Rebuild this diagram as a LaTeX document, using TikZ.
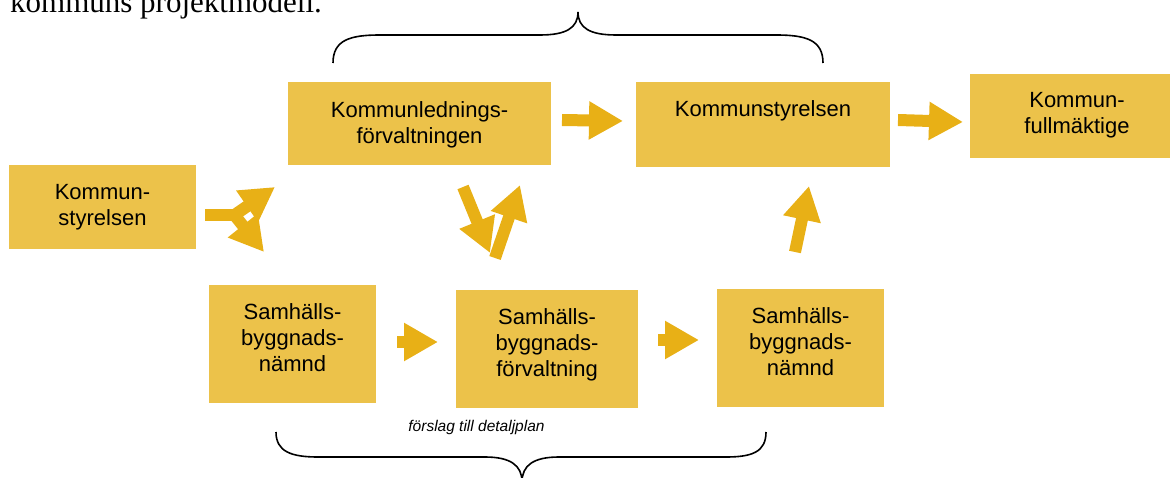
\documentclass[tikz,border=0pt]{standalone}
\usepackage{fontspec}
\setmainfont{Liberation Sans}
\newfontfamily\titleserif{Liberation Serif}
\usetikzlibrary{arrows.meta,calc}
\definecolor{boxc}{RGB}{236,194,74}
\definecolor{arrc}{RGB}{232,176,22}
\begin{document}
\begin{tikzpicture}[x=1pt,y=1pt,
  box/.style={fill=boxc,draw=none,inner sep=0pt,outer sep=0pt},
  txt/.style={align=center,font=\fontsize{22}{26}\selectfont,inner sep=0pt,text=black},
  blockarrow/.style={draw=arrc,line width=12pt,-{Triangle[length=34pt,width=36pt]}},
  brace/.style={draw=black,line width=1.6pt}]
\useasboundingbox (0,0) rectangle (1170,-478);
\clip (0,0) rectangle (1170,-478);

% title fragment (cut off at top)
\node[anchor=base west,inner sep=0pt,font=\titleserif\fontsize{31}{31}\selectfont] (title) at (10,-12.7) {kommuns projektmodell.};

% boxes
\node[box,minimum width=187pt,minimum height=84pt] (A) at (102.5,-207) {};
\node[box,minimum width=263pt,minimum height=83pt] (B) at (419.5,-123.5) {};
\node[box,minimum width=254pt,minimum height=85pt] (C) at (763,-124.5) {};
\node[box,minimum width=214pt,minimum height=84pt] (D) at (1077,-116) {};
\node[box,minimum width=167pt,minimum height=118pt] (E) at (292.5,-344) {};
\node[box,minimum width=182pt,minimum height=118pt] (F) at (547,-349) {};
\node[box,minimum width=167pt,minimum height=118pt] (G) at (800.5,-348) {};

% box texts
\node[txt] (At) at (102.5,-207.4) {Kommun-\\styrelsen};
\node[txt] (Bt) at (419.5,-124.4) {Kommunlednings-\\förvaltningen};
\node[txt,anchor=base] (Ct) at (763,-117) {Kommunstyrelsen};
\node[txt] (Dt) at (1077,-115.4) {Kommun-\\fullmäktige};
\node[txt] (Et) at (292.5,-338) {Samhälls-\\byggnads-\\nämnd};
\node[txt] (Ft) at (547,-345.3) {Samhälls-\\byggnads-\\förvaltning};
\node[txt] (Gt) at (800.5,-342) {Samhälls-\\byggnads-\\nämnd};

% arrow end points
\coordinate (bc1) at (562,-120);  \coordinate (bc2) at (623,-121);
\coordinate (cd1) at (898,-120);  \coordinate (cd2) at (963,-122);
\coordinate (ef1) at (397,-342);  \coordinate (ef2) at (438,-342);
\coordinate (fg1) at (658,-340);  \coordinate (fg2) at (699,-340);
\coordinate (gc1) at (795,-252);  \coordinate (gc2) at (809,-186);
\coordinate (bf1) at (463,-187);  \coordinate (bf2) at (490,-253);
\coordinate (fb1) at (495,-258);  \coordinate (fb2) at (520,-185);
\coordinate (as1) at (205,-215);  \coordinate (as2) at (243,-215);
\coordinate (au1) at (236,-214);  \coordinate (au2) at (275,-187);
\coordinate (ad1) at (236,-217);  \coordinate (ad2) at (264,-252);

% arrows
\draw[blockarrow] (bc1) -- (bc2);
\draw[blockarrow] (cd1) -- (cd2);
\draw[blockarrow] (ef1) -- (ef2);
\draw[blockarrow] (fg1) -- (fg2);
\draw[blockarrow] (gc1) -- (gc2);
\draw[blockarrow] (bf1) -- (bf2);
\draw[blockarrow] (fb1) -- (fb2);
\draw[draw=arrc,line width=12pt] (as1) -- (as2);
\draw[blockarrow] (au1) -- (au2);
\draw[blockarrow] (ad1) -- (ad2);

% braces
\draw[brace] (333,-63) .. controls (333,-40) and (350,-35) .. (380,-35) -- (540,-35)
  .. controls (566,-35) and (578,-28) .. (578,-12)
  .. controls (578,-28) and (590,-35) .. (616,-35) -- (776,-35)
  .. controls (806,-35) and (823,-40) .. (823,-63);
\draw[brace] (276,-432) .. controls (276,-452) and (292,-457) .. (318,-457) -- (485,-457)
  .. controls (510,-457) and (522,-465) .. (522,-482)
  .. controls (522,-465) and (534,-457) .. (559,-457) -- (726,-457)
  .. controls (752,-457) and (766,-452) .. (766,-432);

% label
\node[anchor=base,inner sep=0pt,font=\fontsize{15.5}{18}\selectfont\itshape] (lbl) at (476.5,-431) {förslag till detaljplan};
\end{tikzpicture}
\end{document}
